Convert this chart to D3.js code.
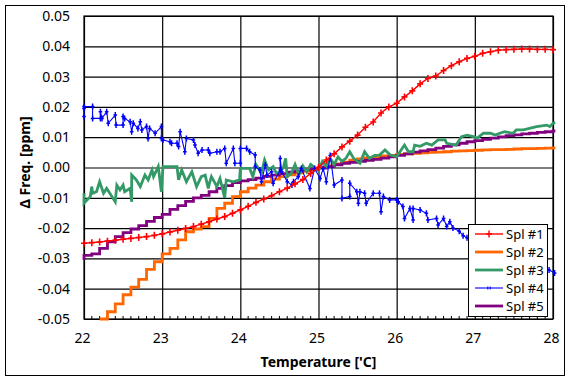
<!DOCTYPE html>
<html><head><meta charset="utf-8">
<script src="https://cdn.jsdelivr.net/npm/d3@7"></script>
<style>
body{margin:0;background:#fff;}
svg{display:block;}
text{font-family:"Noto Sans",sans-serif;}
</style></head>
<body><svg id="c" width="571" height="382"></svg>
<script>
const xTicks = [22,23,24,25,26,27,28];
const xTickLabels = ["22","23","24","25","26","27","28"];
const yTicks = [-0.05,-0.04,-0.03,-0.02,-0.01,0,0.01,0.02,0.03,0.04,0.05];
const yTickLabels = ["-0.05","-0.04","-0.03","-0.02","-0.01","0.00","0.01","0.02","0.03","0.04","0.05"];
const seriesNames = ["Spl #1","Spl #2","Spl #3","Spl #4","Spl #5"];
const xTitle = "Temperature ['C]";
const yTitle = "\u0394 Freq. [ppm]";

const spl1 = [[22.0,-0.0250],[22.1,-0.0248],[22.2,-0.0246],[22.3,-0.0243],[22.4,-0.0240],[22.5,-0.0237],[22.6,-0.0234],[22.7,-0.0231],[22.8,-0.0228],[22.9,-0.0224],
[23.0,-0.0219],[23.1,-0.0213],[23.2,-0.0207],[23.3,-0.0201],[23.4,-0.0195],[23.5,-0.0187],[23.6,-0.0179],[23.7,-0.0170],[23.8,-0.0162],[23.9,-0.0151],
[24.0,-0.0140],[24.1,-0.0128],[24.2,-0.0115],[24.3,-0.0104],[24.4,-0.0093],[24.5,-0.0080],[24.6,-0.0068],[24.7,-0.0054],[24.8,-0.0040],[24.9,-0.0020],
[25.0,0.0000],[25.1,0.0025],[25.2,0.0045],[25.3,0.0068],[25.4,0.0087],[25.5,0.0107],[25.6,0.0133],[25.7,0.0150],[25.8,0.0180],[25.9,0.0200],
[26.0,0.0212],[26.1,0.0233],[26.2,0.0253],[26.3,0.0276],[26.4,0.0294],[26.5,0.0302],[26.6,0.0320],[26.7,0.0336],[26.8,0.0349],[26.9,0.0360],
[27.0,0.0367],[27.1,0.0377],[27.2,0.0382],[27.3,0.0387],[27.4,0.0389],[27.5,0.0390],[27.6,0.0391],[27.7,0.0391],[27.8,0.0390],[27.9,0.0390],[28.0,0.0389]];

const spl2 = [[22.2,-0.0500],[22.3,-0.0476],[22.4,-0.0450],[22.5,-0.0420],[22.6,-0.0395],[22.7,-0.0369],[22.8,-0.0336],[22.9,-0.0311],
[23.0,-0.0285],[23.1,-0.0267],[23.2,-0.0239],[23.3,-0.0212],[23.4,-0.0203],[23.5,-0.0195],[23.6,-0.0168],[23.7,-0.0135],[23.8,-0.0118],[23.9,-0.0096],
[24.0,-0.0080],[24.1,-0.0068],[24.2,-0.0058],[24.3,-0.0047],[24.4,-0.0038],[24.5,-0.0030],[24.6,-0.0024],[24.7,-0.0018],[24.8,-0.0012],[24.9,-0.0008],
[25.0,0.0000],[25.1,0.0005],[25.2,0.0012],[25.3,0.0018],[25.4,0.0024],[25.5,0.0028],[25.6,0.0032],[25.7,0.0035],[25.8,0.0038],[25.9,0.0040],
[26.0,0.0043],[26.1,0.0045],[26.2,0.0047],[26.3,0.0048],[26.4,0.0050],[26.5,0.0051],[26.6,0.0052],[26.7,0.0054],[26.8,0.0055],[26.9,0.0056],
[27.0,0.0057],[27.1,0.0058],[27.2,0.0059],[27.3,0.0059],[27.4,0.0060],[27.5,0.0061],[27.6,0.0062],[27.7,0.0062],[27.8,0.0063],[27.9,0.0064],[28.0,0.0065],[28.03,0.0065]];

const spl3 = [[22.00,-0.0085],[22.00,-0.0118],[22.08,-0.0096],[22.10,-0.0063],[22.11,-0.0085],[22.16,-0.0080],[22.20,-0.0047],[22.25,-0.0085],[22.29,-0.0069],[22.33,-0.0085],
[22.40,-0.0113],[22.42,-0.0058],[22.46,-0.0074],[22.50,-0.0058],[22.52,-0.0080],[22.59,-0.0069],[22.61,-0.0113],[22.61,-0.0025],[22.67,-0.0041],[22.72,-0.0063],
[22.78,-0.0025],[22.82,-0.0041],[22.87,-0.0008],[22.89,-0.0030],[22.95,0.0003],[22.99,-0.0080],[23.01,0.0003],[23.19,0.0003],[23.21,-0.0041],[23.25,-0.0008],
[23.31,-0.0047],[23.38,-0.0014],[23.44,-0.0063],[23.50,-0.0030],[23.55,-0.0025],[23.59,-0.0069],[23.61,-0.0047],[23.63,-0.0030],[23.70,-0.0063],[23.74,-0.0036],
[23.80,-0.0100],[23.82,-0.0041],[23.91,-0.0047],[23.99,-0.0041],[24.00,-0.0003],[24.12,-0.0003],[24.16,-0.0030],[24.20,0.0010],[24.27,-0.0019],[24.31,0.0025],
[24.36,-0.0008],[24.42,0.0003],[24.46,-0.0019],[24.51,-0.0014],[24.55,0.0000],[24.58,0.0030],[24.60,-0.0030],[24.65,-0.0020],[24.70,0.0010],[24.75,-0.0025],
[24.80,0.0005],[24.85,-0.0015],[24.90,0.0010],[24.95,0.0000],[25.00,-0.0010],[25.05,0.0020],[25.10,0.0005],[25.15,0.0030],[25.20,0.0010],[25.25,0.0035],
[25.30,0.0020],[25.35,0.0030],[25.40,0.0052],[25.45,0.0030],[25.53,0.0014],[25.59,0.0052],[25.65,0.0030],[25.72,0.0040],[25.78,0.0041],[25.85,0.0058],
[25.92,0.0041],[26.00,0.0036],[26.10,0.0074],[26.15,0.0052],[26.21,0.0052],[26.23,0.0074],[26.30,0.0070],[26.38,0.0080],[26.45,0.0074],[26.53,0.0091],
[26.62,0.0091],[26.64,0.0080],[26.76,0.0074],[26.83,0.0102],[26.90,0.0107],[26.98,0.0102],[27.03,0.0097],[27.11,0.0113],[27.20,0.0113],[27.26,0.0107],
[27.32,0.0113],[27.38,0.0118],[27.49,0.0113],[27.53,0.0124],[27.62,0.0124],[27.79,0.0135],[27.92,0.0140],[27.96,0.0135],[28.00,0.0146],[28.03,0.0148]];

const spl4 = [[22.00,0.0195],[22.00,0.0168],[22.00,0.0201],[22.11,0.0201],[22.11,0.0162],[22.21,0.0162],[22.21,0.0184],[22.23,0.0162],[22.29,0.0184],[22.31,0.0146],
[22.40,0.0173],[22.41,0.0140],[22.50,0.0140],[22.50,0.0168],[22.52,0.0162],[22.59,0.0151],[22.61,0.0118],[22.63,0.0146],[22.69,0.0129],[22.72,0.0151],
[22.74,0.0124],[22.80,0.0135],[22.82,0.0096],[22.84,0.0129],[22.91,0.0113],[22.99,0.0135],[22.99,0.0096],[23.01,0.0091],[23.10,0.0085],[23.12,0.0080],
[23.19,0.0080],[23.21,0.0069],[23.23,0.0118],[23.29,0.0052],[23.31,0.0096],[23.40,0.0091],[23.42,0.0074],[23.46,0.0047],[23.51,0.0058],[23.59,0.0058],
[23.61,0.0047],[23.70,0.0052],[23.74,0.0052],[23.80,0.0063],[23.82,0.0014],[23.91,0.0063],[23.93,0.0014],[24.00,0.0014],[24.00,0.0063],[24.08,0.0063],
[24.12,0.0052],[24.19,0.0041],[24.19,0.0003],[24.25,-0.0008],[24.27,-0.0047],[24.32,0.0008],[24.34,-0.0025],[24.40,-0.0014],[24.42,-0.0052],[24.51,-0.0008],
[24.51,0.0030],[24.53,-0.0014],[24.60,-0.0047],[24.66,-0.0058],[24.68,-0.0047],[24.74,-0.0030],[24.78,-0.0003],[24.89,-0.0069],[24.95,-0.0003],[25.02,-0.0036],
[25.06,-0.0003],[25.10,-0.0047],[25.15,0.0040],[25.20,-0.0058],[25.30,-0.0041],[25.30,-0.0102],[25.40,-0.0096],[25.40,-0.0052],[25.49,-0.0080],[25.51,-0.0118],
[25.53,-0.0080],[25.59,-0.0085],[25.61,-0.0118],[25.70,-0.0085],[25.78,-0.0085],[25.80,-0.0146],[25.83,-0.0096],[25.91,-0.0107],[26.00,-0.0107],[26.02,-0.0113],
[26.08,-0.0129],[26.10,-0.0168],[26.17,-0.0135],[26.21,-0.0173],[26.21,-0.0135],[26.30,-0.0140],[26.38,-0.0151],[26.40,-0.0173],[26.51,-0.0168],[26.53,-0.0190],
[26.60,-0.0168],[26.64,-0.0195],[26.68,-0.0179],[26.72,-0.0200],[26.80,-0.0210],[26.85,-0.0225],[26.90,-0.0232],[27.00,-0.0240],[27.10,-0.0250],[27.20,-0.0258],
[27.30,-0.0268],[27.40,-0.0280],[27.50,-0.0290],[27.60,-0.0300],[27.70,-0.0310],[27.80,-0.0318],[27.90,-0.0330],[27.95,-0.0338],[28.02,-0.0348]];

const spl5 = [[22.0,-0.0305],[22.0,-0.0290],[22.1,-0.0285],[22.2,-0.0267],[22.3,-0.0245],[22.4,-0.0228],[22.5,-0.0215],[22.6,-0.0203],[22.7,-0.0192],[22.8,-0.0178],[22.9,-0.0165],
[23.0,-0.0155],[23.1,-0.0138],[23.2,-0.0126],[23.3,-0.0112],[23.4,-0.0100],[23.5,-0.0092],[23.6,-0.0080],[23.7,-0.0069],[23.8,-0.0060],[23.9,-0.0050],
[24.0,-0.0044],[24.1,-0.0040],[24.2,-0.0035],[24.3,-0.0029],[24.4,-0.0025],[24.5,-0.0020],[24.6,-0.0015],[24.7,-0.0011],[24.8,-0.0008],[24.9,-0.0005],
[25.0,-0.0002],[25.1,0.0003],[25.2,0.0009],[25.3,0.0014],[25.4,0.0017],[25.5,0.0020],[25.6,0.0024],[25.7,0.0027],[25.8,0.0031],[25.9,0.0035],
[26.0,0.0040],[26.1,0.0045],[26.2,0.0051],[26.3,0.0055],[26.4,0.0059],[26.5,0.0064],[26.6,0.0070],[26.7,0.0075],[26.8,0.0080],[26.9,0.0085],
[27.0,0.0089],[27.1,0.0093],[27.2,0.0097],[27.3,0.0101],[27.4,0.0105],[27.5,0.0108],[27.6,0.0111],[27.7,0.0113],[27.8,0.0116],[27.9,0.0118],[28.0,0.0121],[28.03,0.0121]];

const colors = ["#ff0000","#ff6600","#339966","#0000ff","#800080"];

const svg = d3.select("#c");
const L = 84, R = 553, T = 16, B = 319;
const x = d3.scaleLinear().domain([22,28]).range([L,R]);
const y = d3.scaleLinear().domain([-0.05,0.05]).range([B,T]);

svg.append("rect").attr("x",5.5).attr("y",5.5).attr("width",559).attr("height",370)
  .attr("fill","#fff").attr("stroke","#000").attr("stroke-width",1);

// grid + axes
const gy = svg.append("g").attr("transform",`translate(${L},0)`)
  .call(d3.axisLeft(y).tickValues(yTicks).tickSize(-(R-L)).tickPadding(14)
    .tickFormat((d,i)=>yTickLabels[i]));
gy.select(".domain").remove();
gy.selectAll("line").attr("stroke","#000").attr("stroke-width",1.2);
gy.selectAll("text").attr("font-size",14).attr("fill","#000").style("font-family","Noto Sans");

const gx = svg.append("g").attr("transform",`translate(0,${B})`)
  .call(d3.axisBottom(x).tickValues(xTicks).tickSize(-(B-T)).tickPadding(14)
    .tickFormat((d,i)=>xTickLabels[i]));
gx.select(".domain").remove();
gx.selectAll("line").attr("stroke","#000").attr("stroke-width",1.2);
gx.selectAll("text").attr("font-size",14).attr("fill","#000").attr("dx",-2).style("font-family","Noto Sans");

// minor ticks
const minor = d3.range(221,280).map(d=>d/10).filter(d=>Math.abs(d-Math.round(d))>1e-6);
svg.append("g").selectAll("line").data(minor).join("line")
  .attr("x1",d=>x(d)).attr("x2",d=>x(d)).attr("y1",B).attr("y2",B-3)
  .attr("stroke","#000").attr("stroke-width",1);

svg.append("rect").attr("x",L).attr("y",T).attr("width",R-L).attr("height",B-T)
  .attr("fill","none").attr("stroke","#000").attr("stroke-width",1.2);

const lineLin = d3.line().x(d=>x(d[0])).y(d=>y(d[1]));
const lineStep = d3.line().x(d=>x(d[0])).y(d=>y(d[1])).curve(d3.curveStepAfter);

const plusPath = "M-3,0H3M0,-3.5V3.5";
const bluePath = "M-1.8,0H1.8M0,-3V3";

// Spl #2 orange
svg.append("path").datum(spl2).attr("d",lineStep).attr("fill","none")
  .attr("stroke",colors[1]).attr("stroke-width",2.8);
// Spl #5 purple
svg.append("path").datum(spl5).attr("d",lineStep).attr("fill","none")
  .attr("stroke",colors[4]).attr("stroke-width",2.8);
// Spl #3 green
svg.append("path").datum(spl3).attr("d",lineLin).attr("fill","none")
  .attr("stroke",colors[2]).attr("stroke-width",2.8).attr("stroke-linejoin","miter");
// Spl #4 blue
svg.append("path").datum(spl4).attr("d",lineLin).attr("fill","none")
  .attr("stroke",colors[3]).attr("stroke-width",1.1);
svg.append("g").selectAll("path").data(spl4).join("path")
  .attr("transform",d=>`translate(${x(d[0])},${y(d[1])})`).attr("d",bluePath)
  .attr("stroke",colors[3]).attr("stroke-width",1.5).attr("fill","none");
// Spl #1 red
svg.append("path").datum(spl1).attr("d",lineLin).attr("fill","none")
  .attr("stroke",colors[0]).attr("stroke-width",1.4);
svg.append("g").selectAll("path").data(spl1).join("path")
  .attr("transform",d=>`translate(${x(d[0])},${y(d[1])})`).attr("d",plusPath)
  .attr("stroke",colors[0]).attr("stroke-width",1.6).attr("fill","none");

// legend
const lg = svg.append("g");
lg.append("rect").attr("x",468.5).attr("y",224.5).attr("width",79).attr("height",92)
  .attr("fill","#fff").attr("stroke","#000").attr("stroke-width",1);
const widths = [1.4,2.8,2.8,1.1,2.8];
seriesNames.forEach((n,i)=>{
  const yy = 234 + i*18;
  lg.append("line").attr("x1",475).attr("x2",503).attr("y1",yy).attr("y2",yy)
    .attr("stroke",colors[i]).attr("stroke-width",widths[i]);
  if(i===0) lg.append("path").attr("transform",`translate(489,${yy})`).attr("d",plusPath)
    .attr("stroke",colors[0]).attr("stroke-width",1.4).attr("fill","none");
  if(i===3) lg.append("path").attr("transform",`translate(489,${yy})`).attr("d","M-1.2,-1.5V1.5M1.2,-1.5V1.5")
    .attr("stroke",colors[3]).attr("stroke-width",1).attr("fill","none");
  lg.append("text").attr("x",506).attr("y",yy).attr("dy","0.36em")
    .attr("font-size",13).attr("fill","#000").text(n);
});

// titles
svg.append("text").attr("x",(L+R)/2).attr("y",367).attr("text-anchor","middle")
  .attr("font-size",14).attr("font-weight","bold").text(xTitle);
svg.append("text").attr("transform",`translate(30,${(T+B)/2-5}) rotate(-90)`)
  .attr("text-anchor","middle").attr("font-size",14).attr("font-weight","bold").text(yTitle);
</script></body></html>
